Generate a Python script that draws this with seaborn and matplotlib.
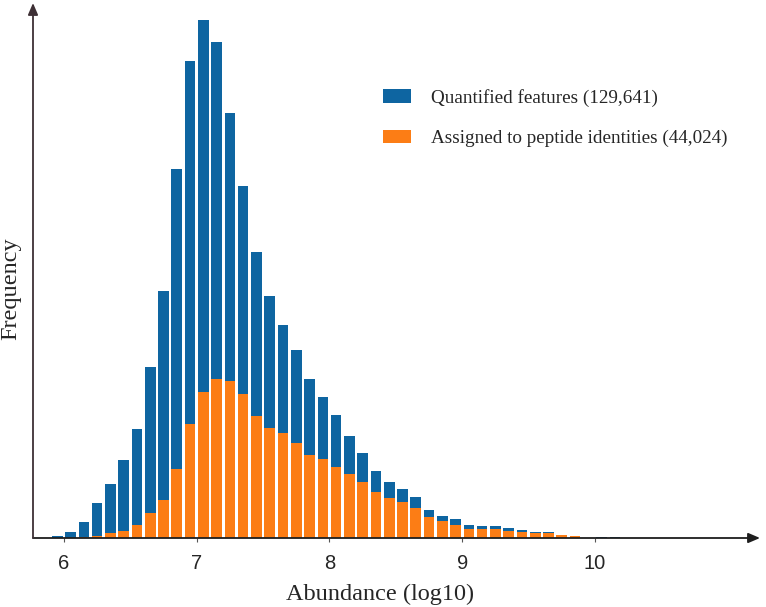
import numpy as np
import pandas as pd
import matplotlib
matplotlib.use("Agg")
import matplotlib.pyplot as plt
import seaborn as sns
from matplotlib.patches import Patch

# ---- data (bins of 0.1 log10 units, left edges) ----
bin_starts = [5.9, 6.0, 6.1, 6.2, 6.3, 6.4, 6.5, 6.6, 6.7, 6.8, 6.9,
              7.0, 7.1, 7.2, 7.3, 7.4, 7.5, 7.6, 7.7, 7.8, 7.9,
              8.0, 8.1, 8.2, 8.3, 8.4, 8.5, 8.6, 8.7, 8.8, 8.9,
              9.0, 9.1, 9.2, 9.3, 9.4, 9.5, 9.6, 9.7, 9.8, 9.9,
              10.0, 10.1]
quantified = [38, 154, 397, 858, 1344, 1933, 2688, 4224, 6106, 9114, 11776,
              12800, 12262, 10509, 8704, 7066, 5990, 5261, 4634, 3930, 3482,
              3046, 2522, 2112, 1651, 1395, 1216, 1011, 704, 550, 461,
              333, 294, 307, 256, 205, 154, 141, 77, 51, 6,
              13, 26]
assigned = [0, 0, 13, 51, 115, 179, 320, 614, 947, 1702, 2816,
            3597, 3917, 3891, 3546, 3008, 2714, 2598, 2342, 2061, 1958,
            1766, 1574, 1395, 1126, 986, 883, 742, 525, 410, 320,
            230, 218, 218, 179, 154, 128, 128, 77, 51, 0,
            0, 6]
labels = ["Quantified features (129,641)", "Assigned to peptide identities (44,024)"]
xticks = [6, 7, 8, 9, 10]

BLUE = "#0e65a1"
ORANGE = "#fc7d15"

sns.set_style("white")
plt.rcParams["font.family"] = ["Liberation Sans", "DejaVu Sans"]

df = pd.DataFrame({"x": np.round(np.array(bin_starts) + 0.05, 3),
                   "q": quantified, "a": assigned})

fig = plt.figure(figsize=(7.66, 6.07), dpi=100)
ax = fig.add_axes([33 / 766, 69 / 607, 727 / 766, 535 / 607])

sns.histplot(data=df, x="x", weights="q", binwidth=0.1, binrange=(5.9, 10.2),
             shrink=0.8, color=BLUE, alpha=1, linewidth=0, ax=ax)
sns.histplot(data=df, x="x", weights="a", binwidth=0.1, binrange=(5.9, 10.2),
             shrink=0.8, color=ORANGE, alpha=1, linewidth=0, ax=ax)

ax.set_xlim(5.767, 11.243)
ax.set_ylim(0, 13220)
ax.set_xticks(xticks)
ax.set_xticklabels([str(t) for t in xticks], fontsize=14.5, family="Liberation Sans")
ax.set_yticks([])
ax.tick_params(axis="x", direction="out", length=3, width=0.8, color="#555555",
               pad=8.5, bottom=True)
ax.set_xlabel("")
ax.set_ylabel("")
for s in ax.spines.values():
    s.set_visible(False)

# axis lines with arrowheads
ax.annotate("", xy=(1, 0), xytext=(0, 0), xycoords="axes fraction",
            arrowprops=dict(arrowstyle="-|>,head_length=0.7,head_width=0.3",
                            color="#1e1e1e", lw=1.3, shrinkA=0, shrinkB=0),
            annotation_clip=False)
ax.annotate("", xy=(0, 1), xytext=(0, 0), xycoords="axes fraction",
            arrowprops=dict(arrowstyle="-|>,head_length=0.7,head_width=0.3",
                            color="#3e3035", lw=1.3, shrinkA=0, shrinkB=0),
            annotation_clip=False)

fig.text(380 / 766, 1 - 594 / 607, "Abundance (log10)", ha="center", va="center",
         fontsize=17.5, family="Liberation Serif")
fig.text(11 / 766, 1 - 289 / 607, "Frequency", ha="center", va="center",
         rotation=90, fontsize=17.5, family="Liberation Serif")

handles = [Patch(facecolor=BLUE, edgecolor="none"),
           Patch(facecolor=ORANGE, edgecolor="none")]
fig.legend(handles, labels, loc="upper left",
           bbox_to_anchor=(383 / 766, 1 - 89 / 607), frameon=False,
           prop=dict(family="Liberation Serif", size=13.8),
           handlelength=1.45, handleheight=0.7, handletextpad=1.05,
           labelspacing=1.2, borderpad=0, borderaxespad=0)

fig.savefig("out.png", dpi=100)
